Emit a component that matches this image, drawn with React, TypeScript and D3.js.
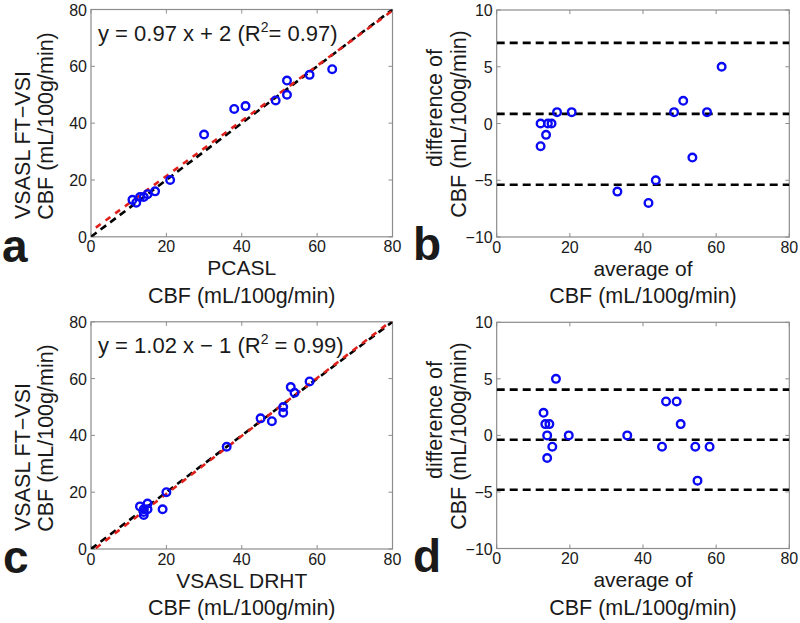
import React from "react";
import * as d3 from "d3";

const aX = [11, 12, 13, 14, 15, 17, 21, 30, 38, 41, 49, 52, 52, 58, 64];
const aY = [13, 12, 14, 14, 15, 16, 20, 36, 45, 46, 48, 50, 55, 57, 59];
const aFit = { slope: 0.97, intercept: 2 };

const bAvg = [12, 12, 13.5, 14, 15, 16.5, 20.5, 33, 41.5, 43.5, 48.5, 51, 53.5, 57.5, 61.5];
const bDiff = [0, -2, -1, 0, 0, 1, 1, -6, -7, -5, 1, 2, -3, 1, 5];
const bLimits = [7.1, 0.85, -5.4];

const cX = [13, 14, 14, 14, 15, 15, 19, 20, 36, 45, 48, 51, 51, 53, 54, 58];
const cY = [15, 13, 12, 14, 16, 14, 14, 20, 36, 46, 45, 50, 48, 57, 55, 59];
const cFit = { slope: 1.02, intercept: -1 };

const dAvg = [12.8, 13.3, 14.4, 13.8, 13.8, 15.2, 16.2, 19.7, 35.7, 45.2, 46.3, 49.2, 50.3, 54.3, 54.9, 58.2];
const dDiff = [2, 1, 1, 0, -2, -1, 5, 0, 0, -1, 3, 3, 1, -1, -4, -1];
const dLimits = [4.05, -0.38, -4.8];

const xTicks = [0, 20, 40, 60, 80];
const scatterYTicks = [0, 20, 40, 60, 80];
const baYTicks = [-10, -5, 0, 5, 10];

const FONT = "'Liberation Sans', Arial, sans-serif";
const AXIS_COLOR = "#8c8c8c";
const BLUE = "#0a0af5";

type PanelProps = {
  id: string;
  left: number;
  right: number;
  top: number;
  bottom: number;
  xs: number[];
  ys: number[];
  yDomain: [number, number];
  yTicks: number[];
  fit?: { slope: number; intercept: number };
  eqParts?: [string, string];
  limits?: number[];
  yLabel: [string, string];
  yLabelPos: { x1: number; c1: number; x2: number; c2: number };
  xLabel: [string, string];
  letter: string;
  letterPos: [number, number];
};

function fmt(v: number) {
  return v < 0 ? "\u2212" + Math.abs(v) : String(v);
}

function Panel(p: PanelProps) {
  const x = d3.scaleLinear().domain([0, 80]).range([p.left, p.right]);
  const y = d3.scaleLinear().domain(p.yDomain).range([p.bottom, p.top]);
  const line = d3
    .line<[number, number]>()
    .x((d) => x(d[0]))
    .y((d) => y(d[1]));
  const tl = 4;
  const cx = (p.left + p.right) / 2;
  return (
    <g>
      <defs>
        <clipPath id={"clip-" + p.id}>
          <rect x={p.left} y={p.top} width={p.right - p.left} height={p.bottom - p.top} />
        </clipPath>
      </defs>
      <rect
        x={p.left}
        y={p.top}
        width={p.right - p.left}
        height={p.bottom - p.top}
        fill="white"
        stroke={AXIS_COLOR}
        strokeWidth={1.2}
      />
      {xTicks.map((t) => (
        <g key={"xt" + t}>
          <line x1={x(t)} x2={x(t)} y1={p.bottom} y2={p.bottom - tl} stroke={AXIS_COLOR} />
          <line x1={x(t)} x2={x(t)} y1={p.top} y2={p.top + tl} stroke={AXIS_COLOR} />
          <text
            x={x(t)}
            y={p.bottom + 15.5}
            textAnchor="middle"
            fontSize={16}
            fontFamily={FONT}
            fill="#1a1a1a"
          >
            {fmt(t)}
          </text>
        </g>
      ))}
      {p.yTicks.map((t) => (
        <g key={"yt" + t}>
          <line x1={p.left} x2={p.left + tl} y1={y(t)} y2={y(t)} stroke={AXIS_COLOR} />
          <line x1={p.right} x2={p.right - tl} y1={y(t)} y2={y(t)} stroke={AXIS_COLOR} />
          <text
            x={p.left - 4}
            y={y(t) + 6}
            textAnchor="end"
            fontSize={16}
            fontFamily={FONT}
            fill="#1a1a1a"
          >
            {fmt(t)}
          </text>
        </g>
      ))}
      <g clipPath={`url(#clip-${p.id})`}>
        {p.fit && (
          <>
            <path
              d={line([
                [0, 0],
                [80, 80],
              ]) as string}
              stroke="black"
              strokeWidth={2.6}
              fill="none"
              strokeDasharray="7 5"
            />
            <path
              d={line([
                [0, p.fit.intercept],
                [80, p.fit.slope * 80 + p.fit.intercept],
              ]) as string}
              stroke="#e0201a"
              strokeWidth={2.6}
              fill="none"
              strokeDasharray="6 6"
              strokeDashoffset={6}
            />
          </>
        )}
        {p.limits &&
          p.limits.map((v, i) => (
            <line
              key={"lim" + i}
              x1={p.left}
              x2={p.right}
              y1={y(v)}
              y2={y(v)}
              stroke="black"
              strokeWidth={2.6}
              strokeDasharray="8 5"
            />
          ))}
        {p.xs.map((v, i) => (
          <circle
            key={"pt" + i}
            cx={x(v)}
            cy={y(p.ys[i])}
            r={3.8}
            fill="none"
            stroke={BLUE}
            strokeWidth={2.4}
          />
        ))}
      </g>
      {p.eqParts && (
        <text x={p.left + 7} y={p.top + 31} fontSize={22} fontFamily={FONT} fill="#1a1a1a">
          {p.eqParts[0]}
          <tspan dy={-9} fontSize={14}>
            2
          </tspan>
          <tspan dy={9}>{p.eqParts[1]}</tspan>
        </text>
      )}
      <text
        transform={`translate(${p.yLabelPos.x1},${p.yLabelPos.c1}) rotate(-90)`}
        textAnchor="middle"
        fontSize={21.5}
        fontFamily={FONT}
        fill="#1a1a1a"
      >
        {p.yLabel[0]}
      </text>
      <text
        transform={`translate(${p.yLabelPos.x2},${p.yLabelPos.c2}) rotate(-90)`}
        textAnchor="middle"
        fontSize={21.5}
        fontFamily={FONT}
        fill="#1a1a1a"
      >
        {p.yLabel[1]}
      </text>
      <text
        x={cx}
        y={p.bottom + 38.5}
        textAnchor="middle"
        fontSize={21}
        fontFamily={FONT}
        fill="#1a1a1a"
      >
        {p.xLabel[0]}
      </text>
      <text
        x={cx}
        y={p.bottom + 66}
        textAnchor="middle"
        fontSize={21.5}
        fontFamily={FONT}
        fill="#1a1a1a"
      >
        {p.xLabel[1]}
      </text>
      <text
        x={p.letterPos[0]}
        y={p.letterPos[1]}
        fontSize={46}
        fontWeight="bold"
        fontFamily={FONT}
        fill="#1a1a1a"
      >
        {p.letter}
      </text>
    </g>
  );
}

export default function App() {
  const cbf = "CBF (mL/100g/min)";
  return (
    <svg
      width={800}
      height={623}
      style={{ position: "absolute", left: 0, top: 0, background: "white" }}
    >
      <rect width={800} height={623} fill="white" />
      <Panel
        id="a"
        left={91}
        right={392.5}
        top={9.5}
        bottom={236.8}
        xs={aX}
        ys={aY}
        yDomain={[0, 80]}
        yTicks={scatterYTicks}
        fit={aFit}
        eqParts={["y = 0.97 x + 2 (R", "= 0.97)"]}
        yLabel={["VSASL FT\u2212VSI", cbf]}
        yLabelPos={{ x1: 30, c1: 145, x2: 53, c2: 126 }}
        xLabel={["PCASL", cbf]}
        letter="a"
        letterPos={[2, 262]}
      />
      <Panel
        id="b"
        left={496.7}
        right={789.3}
        top={10}
        bottom={237}
        xs={bAvg}
        ys={bDiff}
        yDomain={[-10, 10]}
        yTicks={baYTicks}
        limits={bLimits}
        yLabel={["difference of", cbf]}
        yLabelPos={{ x1: 442, c1: 108, x2: 466, c2: 124 }}
        xLabel={["average of", cbf]}
        letter="b"
        letterPos={[413, 260]}
      />
      <Panel
        id="c"
        left={91}
        right={392.5}
        top={321.8}
        bottom={549}
        xs={cX}
        ys={cY}
        yDomain={[0, 80]}
        yTicks={scatterYTicks}
        fit={cFit}
        eqParts={["y = 1.02 x \u2212 1 (R", " = 0.99)"]}
        yLabel={["VSASL FT\u2212VSI", cbf]}
        yLabelPos={{ x1: 30, c1: 457, x2: 53, c2: 438 }}
        xLabel={["VSASL DRHT", cbf]}
        letter="c"
        letterPos={[3, 573]}
      />
      <Panel
        id="d"
        left={496.7}
        right={789.3}
        top={322.3}
        bottom={548.5}
        xs={dAvg}
        ys={dDiff}
        yDomain={[-10, 10]}
        yTicks={baYTicks}
        limits={dLimits}
        yLabel={["difference of", cbf]}
        yLabelPos={{ x1: 442, c1: 420, x2: 466, c2: 436 }}
        xLabel={["average of", cbf]}
        letter="d"
        letterPos={[413, 572]}
      />
    </svg>
  );
}
